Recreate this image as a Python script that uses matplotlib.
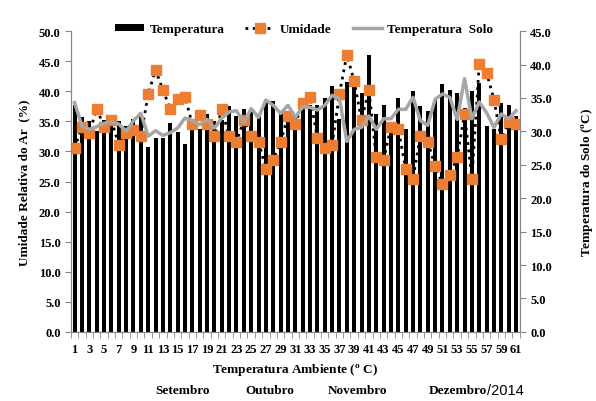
import matplotlib
matplotlib.use("Agg")
import matplotlib.pyplot as plt
import numpy as np

plt.rcParams['font.family'] = 'Liberation Serif'
plt.rcParams['font.weight'] = 'bold'
plt.rcParams['axes.labelweight'] = 'bold'
plt.rcParams['mathtext.fontset'] = 'custom'
plt.rcParams['mathtext.rm'] = 'Liberation Serif:bold'
plt.rcParams['mathtext.bf'] = 'Liberation Serif:bold'

# dias 1..61 (set - dez 2014)
dias = np.arange(1, 62)

# temperatura ambiente (barras, eixo esquerdo)
temperatura = [37.8, 35.7, 35.1, 33.4, 35.2, 36.1, 35.0, 34.3, 35.4, 35.9,
               30.8, 32.3, 32.3, 34.8, 33.3, 31.2, 34.3, 33.8, 36.2, 35.1,
               35.3, 37.5, 35.9, 37.0, 36.7, 35.9, 38.5, 38.4, 36.5, 36.5,
               35.6, 38.4, 37.8, 37.7, 38.9, 40.9, 35.4, 41.5, 40.9, 39.8,
               46.1, 36.2, 37.7, 33.7, 38.9, 33.7, 40.0, 37.6, 36.7, 38.5,
               41.2, 40.2, 39.7, 37.3, 40.1, 41.4, 34.2, 33.7, 38.1, 37.7,
               35.9]

# umidade relativa (eixo esquerdo)
umidade = [30.5, 34.1, 33.0, 37.1, 34.1, 35.2, 31.1, 33.1, 33.6, 32.5,
           39.5, 43.6, 40.2, 37.1, 38.7, 39.1, 34.5, 36.0, 34.5, 32.5,
           37.0, 32.6, 31.6, 35.2, 32.6, 31.6, 27.1, 28.6, 31.6, 35.9,
           34.6, 38.1, 39.1, 32.2, 30.5, 31.1, 39.6, 46.1, 41.7, 35.2,
           40.2, 29.0, 28.6, 34.1, 33.7, 27.1, 25.5, 32.6, 31.6, 27.6,
           24.6, 26.1, 29.0, 36.2, 25.5, 44.6, 43.1, 38.6, 32.0, 34.9,
           34.6]

# temperatura do solo (eixo direito)
solo = [34.3, 30.8, 30.3, 30.7, 31.2, 31.4, 31.1, 30.0, 31.6, 32.7,
        29.3, 30.1, 29.4, 29.8, 30.5, 32.0, 31.6, 31.0, 31.8, 30.5,
        32.0, 32.9, 33.1, 31.3, 33.4, 32.1, 34.7, 33.9, 32.7, 33.9,
        32.1, 33.7, 33.6, 33.2, 33.9, 35.4, 34.9, 28.5, 30.3, 30.6,
        32.3, 30.3, 31.9, 31.9, 33.3, 33.3, 35.1, 31.6, 30.9, 34.8,
        35.6, 35.1, 31.8, 37.9, 31.9, 34.4, 32.8, 30.6, 32.6, 31.9,
        33.1]

meses = ['Setembro', 'Outubro', 'Novembro', 'Dezembro']

fig, ax = plt.subplots(figsize=(5.96, 4.02), dpi=100)
fig.subplots_adjust(left=0.119, right=0.872, top=0.920, bottom=0.172)

ax.bar(dias, temperatura, width=0.55, color='black', label='Temperatura')
ax.plot(dias, umidade, color='black', linestyle=':', linewidth=2,
        marker='s', markersize=6.5, markerfacecolor='#ED7D31',
        markeredgecolor='#ED7D31', label='Umidade')

ax2 = ax.twinx()
ax2.plot(dias, solo, color='#A6A6A6', linewidth=2.5, label='Temperatura  Solo')

ax.set_xlim(0.5, 61.5)
ax.set_ylim(0, 50)
ax2.set_ylim(0, 45)
ax.set_yticks(np.arange(0, 50.1, 5))
ax2.set_yticks(np.arange(0, 45.1, 5))
ax.set_yticklabels(['%.1f' % v for v in np.arange(0, 50.1, 5)])
ax2.set_yticklabels(['%.1f' % v for v in np.arange(0, 45.1, 5)])

ax.set_xticks(dias[::2])
ax.set_xticklabels([str(d) for d in dias[::2]])
ax.set_xticks(np.arange(0.5, 62, 1), minor=True)
ax.tick_params(axis='x', which='major', length=0, labelsize=9, pad=8)
ax.tick_params(axis='x', which='minor', length=4, color='#888888')
ax.tick_params(axis='y', labelsize=9, length=4, color='#888888')
ax2.tick_params(axis='y', labelsize=9, length=4, color='#888888')

for a in (ax, ax2):
    a.spines['top'].set_visible(False)
    for s in ('left', 'right', 'bottom'):
        a.spines[s].set_color('#888888')

ax.set_ylabel('Umidade Relativa do Ar  (%)', fontsize=9.5, labelpad=6)
ax2.set_ylabel(r'Temperatura do Solo ($^{\mathrm{o}}$C)', fontsize=9.5, labelpad=20)
ax.set_xlabel(r'Temperatura Ambiente ($^{\mathrm{o}}$ C)', fontsize=9.5, labelpad=5)

# meses abaixo do eixo
xs = [0.307, 0.453, 0.599]
for m, xm in zip(meses[:3], xs):
    fig.text(xm, 0.028, m, ha='center', va='center', fontsize=9.5)
fig.text(0.817, 0.028, meses[3], ha='right', va='center', fontsize=9.5)
fig.text(0.817, 0.028, '/2014', ha='left', va='center', fontsize=10.5,
         family='Liberation Sans', weight='normal')

h1, l1 = ax.get_legend_handles_labels()
h2, l2 = ax2.get_legend_handles_labels()
# ordem: barras, umidade, solo
handles = [h1[1], h1[0], h2[0]]
labels = [l1[1], l1[0], l2[0]]
fig.legend(handles, labels, loc='center', bbox_to_anchor=(0.51, 0.925),
           ncol=3, frameon=False, fontsize=9.5, handlelength=2.2,
           handleheight=0.5, columnspacing=1.6, handletextpad=0.4)

plt.savefig('out.png', dpi=100)
